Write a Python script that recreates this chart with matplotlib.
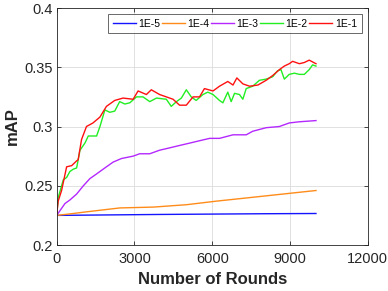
import matplotlib
matplotlib.use("Agg")
import matplotlib.pyplot as plt

plt.rcParams['font.family'] = ['Liberation Sans', 'DejaVu Sans']

labels = ['1E-5', '1E-4', '1E-3', '1E-2', '1E-1']
colors = ['#1414ff', '#ff8c1a', '#b428ff', '#22ee22', '#ff1010']

x_blue = [0, 2000, 4000, 6000, 8000, 10000]
y_blue = [0.225, 0.2254, 0.2258, 0.2261, 0.2264, 0.2266]

x_orange = [0, 600, 1150, 1540, 2440, 3720, 5000, 6150, 7440, 8720, 10000]
y_orange = [0.225, 0.2265, 0.228, 0.229, 0.2313, 0.232, 0.234, 0.237, 0.240, 0.243, 0.246]

x_purple = [0, 320, 510, 770, 1030, 1280, 1540, 1920, 2180, 2500, 2950, 3200, 3590,
            3970, 4360, 4740, 5130, 5510, 5900, 6280, 6800, 7310, 7560, 8080, 8590,
            8970, 9360, 10000]
y_purple = [0.225, 0.235, 0.238, 0.243, 0.250, 0.256, 0.260, 0.266, 0.270, 0.273,
            0.275, 0.277, 0.277, 0.280, 0.282, 0.284, 0.286, 0.288, 0.290, 0.290,
            0.293, 0.293, 0.296, 0.299, 0.300, 0.303, 0.304, 0.305]

x_green = [0, 60, 256, 385, 510, 640, 770, 900, 1090, 1220, 1540, 1670, 1860, 2050,
           2240, 2430, 2630, 2820, 3080, 3330, 3590, 3850, 4230, 4420, 4620, 4810,
           5000, 5190, 5380, 5640, 5830, 6030, 6280, 6410, 6600, 6730, 6860, 7050,
           7180, 7310, 7560, 7820, 8080, 8330, 8520, 8650, 8780, 8970, 9170, 9360,
           9550, 9740, 9870, 10000]
y_green = [0.225, 0.240, 0.255, 0.257, 0.262, 0.264, 0.265, 0.280, 0.286, 0.292,
           0.292, 0.300, 0.314, 0.312, 0.313, 0.321, 0.319, 0.320, 0.325, 0.325,
           0.321, 0.324, 0.323, 0.317, 0.321, 0.324, 0.331, 0.325, 0.322, 0.327,
           0.329, 0.327, 0.322, 0.320, 0.329, 0.321, 0.328, 0.327, 0.323, 0.332,
           0.334, 0.339, 0.340, 0.342, 0.347, 0.348, 0.340, 0.344, 0.345, 0.344,
           0.344, 0.348, 0.352, 0.351]

x_red = [0, 60, 190, 385, 580, 770, 830, 960, 1150, 1400, 1670, 1920, 2240, 2560,
         2950, 3140, 3460, 3650, 3970, 4230, 4490, 4740, 5000, 5260, 5510, 5700,
         6030, 6280, 6600, 6800, 6950, 7180, 7440, 7760, 8080, 8330, 8590, 8780,
         8970, 9100, 9360, 9550, 9740, 10000]
y_red = [0.225, 0.237, 0.246, 0.266, 0.267, 0.271, 0.272, 0.289, 0.300, 0.303,
         0.308, 0.317, 0.322, 0.324, 0.323, 0.330, 0.327, 0.331, 0.327, 0.325,
         0.323, 0.318, 0.318, 0.325, 0.325, 0.332, 0.330, 0.334, 0.338, 0.335,
         0.341, 0.336, 0.334, 0.335, 0.339, 0.343, 0.348, 0.351, 0.353, 0.355,
         0.353, 0.354, 0.356, 0.353]

xs = [x_blue, x_orange, x_purple, x_green, x_red]
ys = [y_blue, y_orange, y_purple, y_green, y_red]

xticks = [0, 3000, 6000, 9000, 12000]
yticks = [0.2, 0.25, 0.3, 0.35, 0.4]
yticklabels = ['0.2', '0.25', '0.3', '0.35', '0.4']

fig = plt.figure(figsize=(3.88, 2.91), dpi=100)
ax = fig.add_axes([0.146, 0.158, 0.802, 0.8145])
for x, y, c, l in zip(xs, ys, colors, labels):
    ax.plot(x, y, color=c, lw=1.0, label=l)

ax.set_xlim(0, 12000)
ax.set_ylim(0.2, 0.4)
ax.set_xticks(xticks)
ax.set_xticklabels([str(t) for t in xticks])
ax.set_yticks(yticks)
ax.set_yticklabels(yticklabels)
ax.grid(True, color='#dcdcdc', lw=0.6)
ax.set_axisbelow(True)
ax.tick_params(direction='in', top=True, right=True, labelsize=10.5, length=3,
               width=0.6, colors='#262626', pad=3)
ax.tick_params(axis='x', pad=5)
for s in ax.spines.values():
    s.set_color('#262626')
    s.set_linewidth(0.6)
ax.set_xlabel('Number of Rounds', fontsize=12, fontweight='bold', color='#262626', labelpad=4)
ax.set_ylabel('mAP', fontsize=12, fontweight='bold', color='#262626', labelpad=3)

leg = ax.legend(loc='upper right', ncol=5, fontsize=7.5, frameon=True, fancybox=False,
                edgecolor='#262626', handlelength=2.2, handletextpad=0.25,
                columnspacing=0.15, borderpad=0.45, borderaxespad=0,
                bbox_to_anchor=(0.98, 0.975))
leg.get_frame().set_linewidth(0.6)

fig.savefig('out.png', dpi=100)
